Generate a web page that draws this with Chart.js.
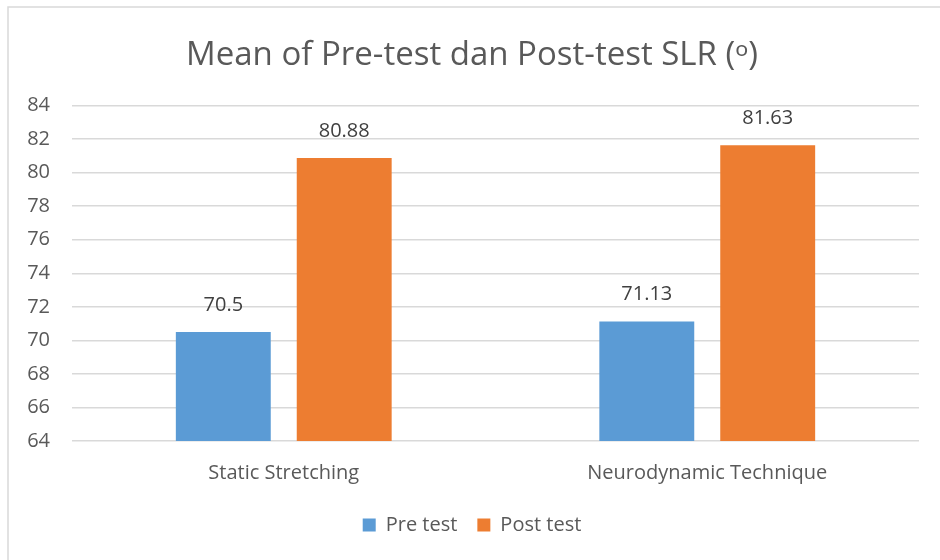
<!DOCTYPE html>
<html>
<head>
<meta charset="utf-8">
<script src="https://cdn.jsdelivr.net/npm/chart.js"></script>
<style>
    html, body { margin: 0; padding: 0; background: #ffffff; }
    #wrap { width: 940px; height: 560px; position: relative; }
</style>
</head>
<body>
<div id="wrap"><canvas id="slrChart" width="940" height="560"></canvas></div>
<script>
// Mean SLR (degrees) before and after each intervention
const categories = ['Static Stretching', 'Neurodynamic Technique'];
const preTest = [70.5, 71.13];
const postTest = [80.88, 81.63];
const seriesNames = ['Pre test', 'Post test'];
const yTicks = [64, 66, 68, 70, 72, 74, 76, 78, 80, 82, 84];

const FONT = "'Open Sans', 'Noto Sans', sans-serif";
const TEXT_COLOR = '#595959';

// value labels above each bar
const barLabels = {
    id: 'barLabels',
    afterDatasetsDraw(chart) {
        const ctx = chart.ctx;
        ctx.save();
        ctx.font = '20px ' + FONT;
        ctx.fillStyle = '#404040';
        ctx.textAlign = 'center';
        ctx.textBaseline = 'middle';
        chart.data.datasets.forEach(function(ds, i) {
            chart.getDatasetMeta(i).data.forEach(function(bar, j) {
                ctx.fillText(String(ds.data[j]), bar.x, bar.y - 27);
            });
        });
        ctx.restore();
    }
};

// thin frame on the left and top like the original export
const frame = {
    id: 'frame',
    beforeDraw(chart) {
        const ctx = chart.ctx;
        ctx.save();
        ctx.strokeStyle = '#d9d9d9';
        ctx.lineWidth = 1.5;
        ctx.beginPath();
        ctx.moveTo(8, 560);
        ctx.lineTo(8, 7);
        ctx.lineTo(940, 7);
        ctx.stroke();
        ctx.restore();
    }
};

const ctx = document.getElementById('slrChart').getContext('2d');
new Chart(ctx, {
    type: 'bar',
    data: {
        labels: categories,
        datasets: [{
            label: seriesNames[0],
            data: preTest,
            backgroundColor: '#5b9bd5',
            categoryPercentage: 0.571,
            barPercentage: 0.785
        }, {
            label: seriesNames[1],
            data: postTest,
            backgroundColor: '#ed7d31',
            categoryPercentage: 0.571,
            barPercentage: 0.785
        }]
    },
    options: {
        responsive: false,
        animation: false,
        // some left padding pulls title and legend toward the original centre
        layout: { padding: { left: 25, right: 21, top: 0, bottom: 15 } },
        scales: {
            x: {
                afterFit: function(axis) { axis.height = 54; },
                grid: { display: false, drawTicks: false },
                border: { display: false },
                ticks: { color: TEXT_COLOR, font: { family: FONT, size: 20 }, padding: 20 }
            },
            y: {
                min: 64,
                max: 84,
                afterBuildTicks: function(axis) {
                    axis.ticks = yTicks.map(function(v) { return { value: v }; });
                },
                afterFit: function(axis) { axis.width = 47; },
                grid: { color: '#d9d9d9', lineWidth: 1.5, drawTicks: false },
                border: { display: false },
                ticks: { color: TEXT_COLOR, font: { family: FONT, size: 20 }, padding: 22 }
            }
        },
        plugins: {
            title: {
                display: true,
                text: 'Mean of Pre-test dan Post-test SLR (\u1d52)',
                color: TEXT_COLOR,
                font: { family: FONT, size: 33, weight: 'normal' },
                padding: { top: 36, bottom: 30 }
            },
            legend: {
                position: 'bottom',
                labels: {
                    color: TEXT_COLOR,
                    font: { family: FONT, size: 20 },
                    boxWidth: 13,
                    boxHeight: 13,
                    padding: 20
                }
            },
            tooltip: { enabled: false }
        }
    },
    plugins: [barLabels, frame]
});
</script>
</body>
</html>
